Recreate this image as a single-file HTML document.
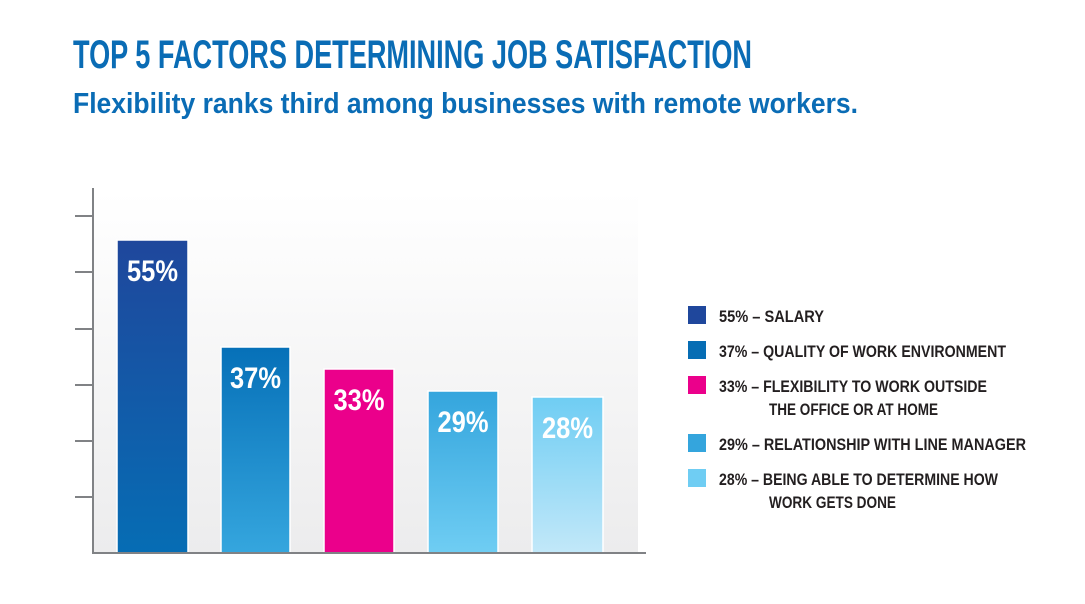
<!DOCTYPE html>
<html><head><meta charset="utf-8"><style>html,body{margin:0;padding:0;background:#fff}svg{display:block}</style></head>
<body>
<svg width="1085" height="604" viewBox="0 0 1085 604" xmlns="http://www.w3.org/2000/svg" font-family="Liberation Sans, sans-serif">
<defs>
<linearGradient id="bg" x1="0" y1="0" x2="0" y2="1"><stop offset="0" stop-color="#fff"/><stop offset="1" stop-color="#ececed"/></linearGradient>
<linearGradient id="g1" x1="0" y1="0" x2="0" y2="1"><stop offset="0" stop-color="#1f479c"/><stop offset="1" stop-color="#066db4"/></linearGradient>
<linearGradient id="g2" x1="0" y1="0" x2="0" y2="1"><stop offset="0" stop-color="#0670b8"/><stop offset="1" stop-color="#35a6de"/></linearGradient>
<linearGradient id="g4" x1="0" y1="0" x2="0" y2="1"><stop offset="0" stop-color="#34a5dd"/><stop offset="1" stop-color="#6fcdf3"/></linearGradient>
<linearGradient id="g5" x1="0" y1="0" x2="0" y2="1"><stop offset="0" stop-color="#6fcdf3"/><stop offset="1" stop-color="#c2e8f9"/></linearGradient>
</defs>
<text x="73" y="68" font-size="40" font-weight="bold" fill="#0a6cb5" textLength="679" lengthAdjust="spacingAndGlyphs">TOP 5 FACTORS DETERMINING JOB SATISFACTION</text>
<text x="73" y="113" font-size="29" font-weight="bold" fill="#0a6cb5" textLength="785" lengthAdjust="spacingAndGlyphs">Flexibility ranks third among businesses with remote workers.</text>
<rect x="93" y="192" width="545" height="361" fill="url(#bg)"/>
<g stroke="#fff" stroke-width="1.5">
<rect x="117" y="240" width="71" height="313" fill="url(#g1)"/>
<rect x="221" y="347" width="69" height="206" fill="url(#g2)"/>
<rect x="324" y="369" width="70" height="184" fill="#eb008b"/>
<rect x="428" y="391" width="70" height="162" fill="url(#g4)"/>
<rect x="532" y="397" width="71" height="156" fill="url(#g5)"/>
</g>
<g fill="none" stroke="#808285" stroke-width="2">
<path d="M93 188V553H646"/>
<path d="M75 216H93M75 272H93M75 329H93M75 385H93M75 441H93M75 497H93"/>
</g>
<g fill="#fff" font-size="30" font-weight="bold" text-anchor="middle">
<text x="152.5" y="281" textLength="51" lengthAdjust="spacingAndGlyphs">55%</text>
<text x="255.5" y="388" textLength="51" lengthAdjust="spacingAndGlyphs">37%</text>
<text x="359" y="410" textLength="51" lengthAdjust="spacingAndGlyphs">33%</text>
<text x="463" y="432" textLength="51" lengthAdjust="spacingAndGlyphs">29%</text>
<text x="567.5" y="438" textLength="51" lengthAdjust="spacingAndGlyphs">28%</text>
</g>
<rect x="688" y="306" width="18" height="18" fill="#1f479c"/>
<rect x="688" y="341" width="18" height="18" fill="#066db4"/>
<rect x="688" y="376" width="18" height="18" fill="#eb008b"/>
<rect x="688" y="434" width="18" height="18" fill="#34a5dd"/>
<rect x="688" y="469" width="18" height="18" fill="#6fcdf3"/>
<g fill="#231f20" font-size="17" font-weight="bold">
<text x="719" y="322" textLength="105" lengthAdjust="spacingAndGlyphs">55% – SALARY</text>
<text x="719" y="357" textLength="287" lengthAdjust="spacingAndGlyphs">37% – QUALITY OF WORK ENVIRONMENT</text>
<text x="719" y="392" textLength="268" lengthAdjust="spacingAndGlyphs">33% – FLEXIBILITY TO WORK OUTSIDE</text>
<text x="769" y="415" textLength="169" lengthAdjust="spacingAndGlyphs">THE OFFICE OR AT HOME</text>
<text x="719" y="450" textLength="307" lengthAdjust="spacingAndGlyphs">29% – RELATIONSHIP WITH LINE MANAGER</text>
<text x="719" y="485" textLength="279" lengthAdjust="spacingAndGlyphs">28% – BEING ABLE TO DETERMINE HOW</text>
<text x="769" y="508" textLength="127" lengthAdjust="spacingAndGlyphs">WORK GETS DONE</text>
</g>
</svg>
</body></html>
